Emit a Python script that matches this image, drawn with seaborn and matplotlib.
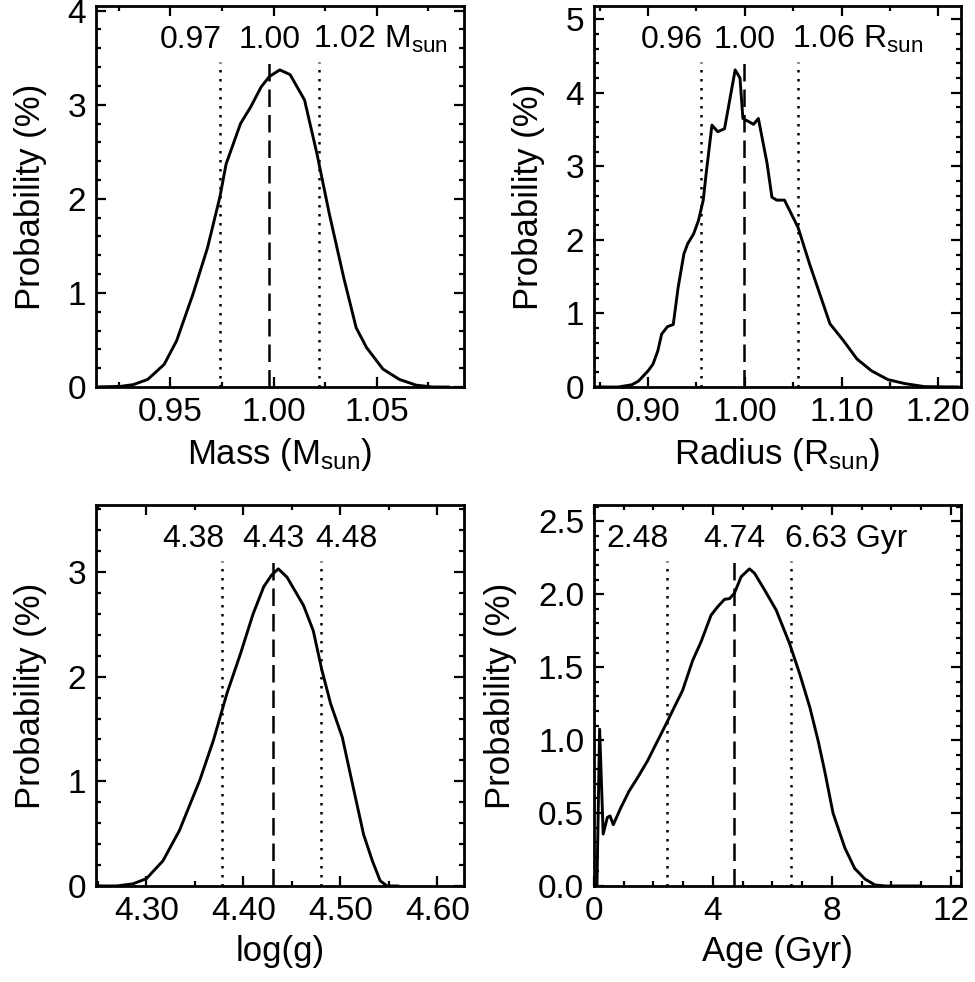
import numpy as np
import pandas as pd
import seaborn as sns
import matplotlib
matplotlib.use("Agg")
import matplotlib.pyplot as plt
from matplotlib.ticker import MultipleLocator
from matplotlib.transforms import offset_copy

# curves (x, probability in %)
mass_x = [0.914, 0.926, 0.932, 0.939, 0.947, 0.953, 0.961, 0.968, 0.974, 0.977, 0.984, 0.989,
          0.994, 0.998, 1.003, 1.008, 1.015, 1.021, 1.027, 1.034, 1.040, 1.045, 1.053, 1.061,
          1.069, 1.077, 1.085]
mass_p = [0.0, 0.007, 0.025, 0.08, 0.24, 0.49, 0.99, 1.48, 2.02, 2.37, 2.80, 2.98,
          3.19, 3.30, 3.37, 3.32, 3.05, 2.48, 1.84, 1.16, 0.63, 0.42, 0.19, 0.08,
          0.02, 0.0, 0.0]

rad_x = [0.845, 0.869, 0.883, 0.890, 0.900, 0.905, 0.910, 0.914, 0.920, 0.926, 0.931, 0.937,
         0.941, 0.947, 0.952, 0.957, 0.960, 0.966, 0.972, 0.979, 0.990, 0.995, 0.998, 1.005,
         1.009, 1.014, 1.023, 1.028, 1.033, 1.041, 1.055, 1.067, 1.088, 1.102, 1.116, 1.131,
         1.148, 1.166, 1.186, 1.221]
rad_p = [0.0, 0.0, 0.03, 0.08, 0.22, 0.31, 0.49, 0.72, 0.82, 0.85, 1.35, 1.81,
         1.95, 2.08, 2.26, 2.54, 2.90, 3.56, 3.47, 3.51, 4.31, 4.20, 3.65, 3.60,
         3.57, 3.65, 3.04, 2.58, 2.54, 2.54, 2.17, 1.67, 0.86, 0.63, 0.38, 0.22,
         0.10, 0.045, 0.005, 0.0]

logg_x = [4.248, 4.269, 4.286, 4.300, 4.317, 4.334, 4.355, 4.369, 4.383, 4.397, 4.410, 4.421,
          4.429, 4.436, 4.445, 4.462, 4.472, 4.481, 4.490, 4.502, 4.514, 4.524, 4.533, 4.541,
          4.548, 4.560]
logg_p = [0.0, 0.0, 0.02, 0.07, 0.24, 0.53, 1.01, 1.39, 1.84, 2.22, 2.60, 2.86,
          2.97, 3.03, 2.95, 2.68, 2.44, 2.06, 1.74, 1.42, 0.91, 0.49, 0.24, 0.05,
          0.0, 0.0]

age_x = [0.10, 0.19, 0.31, 0.45, 0.54, 0.65, 0.90, 1.18, 1.46, 1.80, 2.14, 2.45, 2.70, 2.98,
         3.32, 3.60, 3.94, 4.16, 4.39, 4.56, 4.72, 4.95, 5.23, 5.40, 5.74, 6.13, 6.58, 6.92,
         7.26, 7.54, 7.76, 8.04, 8.44, 8.77, 9.11, 9.45, 9.79, 11.0]
age_p = [0.0, 1.075, 0.356, 0.47, 0.48, 0.42, 0.535, 0.65, 0.74, 0.857, 0.995, 1.12, 1.225, 1.34,
         1.546, 1.673, 1.857, 1.914, 1.965, 1.97, 2.006, 2.12, 2.174, 2.144, 2.029, 1.891, 1.661, 1.454,
         1.225, 0.995, 0.788, 0.50, 0.26, 0.12, 0.048, 0.007, 0.0, 0.0]

# low / median / high markers and their labels
mass_lines = [0.974, 0.998, 1.022]
mass_labels = ["0.97", "1.00", "1.02 M$_{\\mathrm{sun}}$"]
rad_lines = [0.9545, 0.9993, 1.055]
rad_labels = ["0.96", "1.00", "1.06 R$_{\\mathrm{sun}}$"]
logg_lines = [4.378, 4.431, 4.480]
logg_labels = ["4.38", "4.43", "4.48"]
age_lines = [2.45, 4.72, 6.64]
age_labels = ["2.48", "4.74", "6.63 Gyr"]

sns.set_style("ticks")
plt.rcParams['font.family'] = ['Liberation Sans', 'DejaVu Sans']
plt.rcParams['mathtext.fontset'] = 'custom'
plt.rcParams['mathtext.rm'] = 'Liberation Sans'
plt.rcParams['mathtext.it'] = 'Liberation Sans:italic'
plt.rcParams['mathtext.bf'] = 'Liberation Sans:bold'
plt.rcParams['text.color'] = 'k'
plt.rcParams['axes.labelcolor'] = 'k'

fig = plt.figure(figsize=(9.75, 9.82), dpi=100)
w, h = 0.3769, 0.3875
pos = [[0.0985, 0.6059, w, h], [0.6092, 0.6059, w, h],
       [0.0985, 0.0978, w, h], [0.6092, 0.0978, w, h]]

panels = [
    (mass_x, mass_p, mass_lines, mass_labels, (0.914, 1.092), 0.05, 0.025, 1, 0.2,
     "Mass (M$_{\\mathrm{sun}}$)", "%.2f", "%d"),
    (rad_x, rad_p, rad_lines, rad_labels, (0.844, 1.224), 0.1, 0.05, 1, 0.2,
     "Radius (R$_{\\mathrm{sun}}$)", "%.2f", "%d"),
    (logg_x, logg_p, logg_lines, logg_labels, (4.248, 4.627), 0.1, 0.05, 1, 0.2,
     "log(g)", "%.2f", "%d"),
    (age_x, age_p, age_lines, age_labels, (0.0, 12.36), 4, 1, 0.5, 0.1,
     "Age (Gyr)", "%d", "%.1f"),
]

fs = 25
tfs = 24
afs = 23
for p, (x, y, vl, vlab, xl, xmaj, xmin, ymaj, ymin, xlab, xfmt, yfmt) in zip(pos, panels):
    ax = fig.add_axes(p)
    df = pd.DataFrame({"x": x, "p": y})
    sns.lineplot(data=df, x="x", y="p", ax=ax, color="k", lw=2.1, estimator=None)
    ax.set_xlim(*xl)
    ax.set_ylim(0, 1.2 * max(y))
    ax.axvline(vl[0], ymax=0.855, color="k", lw=1.8, ls=(0, (1, 2.6)))
    ax.axvline(vl[1], ymax=0.855, color="k", lw=1.8, ls=(0, (7, 3.2)))
    ax.axvline(vl[2], ymax=0.855, color="k", lw=1.8, ls=(0, (1, 2.6)))
    tr = ax.get_xaxis_transform()
    ax.text(vl[0], 0.89, vlab[0], transform=offset_copy(tr, fig, x=2, y=0, units="dots"),
            ha="right", va="baseline", fontsize=afs)
    ax.text(vl[1], 0.89, vlab[1], transform=tr, ha="center", va="baseline", fontsize=afs)
    ax.text(vl[2], 0.89, vlab[2], transform=offset_copy(tr, fig, x=-6, y=0, units="dots"),
            ha="left", va="baseline", fontsize=afs)
    ax.xaxis.set_major_locator(MultipleLocator(xmaj))
    ax.xaxis.set_minor_locator(MultipleLocator(xmin))
    ax.yaxis.set_major_locator(MultipleLocator(ymaj))
    ax.yaxis.set_minor_locator(MultipleLocator(ymin))
    ax.xaxis.set_major_formatter(plt.FormatStrFormatter(xfmt))
    ax.yaxis.set_major_formatter(plt.FormatStrFormatter(yfmt))
    ax.tick_params(which="both", direction="in", top=True, right=True, width=1.6,
                   labelsize=tfs, pad=7, color="k", labelcolor="k")
    ax.tick_params(which="major", length=7.5)
    ax.tick_params(which="minor", length=3.8)
    for s in ax.spines.values():
        s.set_linewidth(2.0)
        s.set_color("k")
    ax.set_xlabel(xlab, fontsize=fs, labelpad=6)
    ax.set_ylabel("Probability (%)", fontsize=fs, labelpad=15)

fig.savefig("out.png", dpi=100)
